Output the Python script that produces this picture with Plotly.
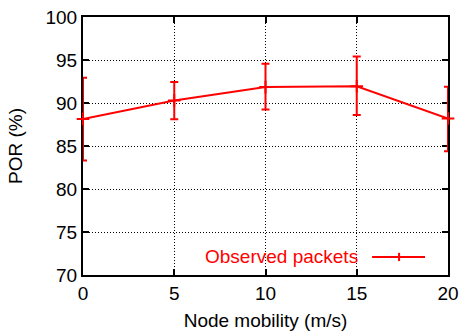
import plotly.graph_objects as go

mobility = [0, 5, 10, 15, 20]
por = [88.15, 90.3, 91.85, 91.95, 88.2]
err_plus = [4.8, 2.15, 2.7, 3.45, 3.7]
err_minus = [4.85, 2.2, 2.6, 3.35, 3.8]
series_name = "Observed packets"
x_ticks = [0, 5, 10, 15, 20]
y_ticks = [70, 75, 80, 85, 90, 95, 100]

RED = "#ff0000"
FONT = "Liberation Sans, Arial, sans-serif"
FS = 19

fig = go.Figure()
fig.add_trace(go.Scatter(
    x=mobility, y=por, mode="lines+markers", name=series_name,
    line=dict(color=RED, width=2),
    marker=dict(symbol="cross-thin", size=9, line=dict(color=RED, width=2), color=RED),
    error_y=dict(type="data", array=err_plus, arrayminus=err_minus,
                 color=RED, thickness=2, width=4, visible=True),
    showlegend=False, cliponaxis=False,
))

axis_common = dict(
    showline=True, linecolor="black", linewidth=2, mirror="allticks",
    ticks="inside", ticklen=6, tickwidth=1.5, tickcolor="black",
    showgrid=True, gridcolor="black", gridwidth=1, griddash="1px,2px",
    zeroline=False, automargin=False, layer="below traces",
    tickfont=dict(family=FONT, size=FS, color="black"),
)

fig.update_xaxes(range=[0, 20], tickvals=x_ticks,
                 title=dict(text="Node mobility (m/s)", font=dict(family=FONT, size=FS, color="black"), standoff=11),
                 **axis_common)
fig.update_yaxes(range=[70, 100], tickvals=y_ticks,
                 title=dict(text="POR (%)", font=dict(family=FONT, size=FS, color="black"), standoff=18),
                 **axis_common)

# gnuplot-style legend: text on the left, line sample on the right
fig.add_annotation(xref="paper", yref="paper", x=0.759, y=0.07, xanchor="right", yanchor="middle",
                   text=series_name, showarrow=False, font=dict(family=FONT, size=FS, color=RED))
fig.add_shape(type="line", xref="paper", yref="paper", x0=0.792, x1=0.937, y0=0.07, y1=0.07,
              line=dict(color=RED, width=2))
fig.add_shape(type="line", xref="paper", yref="paper", x0=0.866, x1=0.866, y0=0.054, y1=0.086,
              line=dict(color=RED, width=2))

fig.update_layout(
    width=459, height=333, margin=dict(l=83, r=11, t=17, b=58, autoexpand=False),
    plot_bgcolor="white", paper_bgcolor="white",
    font=dict(family=FONT, size=FS, color="black"),
)

fig.write_html("out.html", config={"displayModeBar": False},
               post_script="document.body.style.margin='0';document.body.style.overflow='hidden';")
